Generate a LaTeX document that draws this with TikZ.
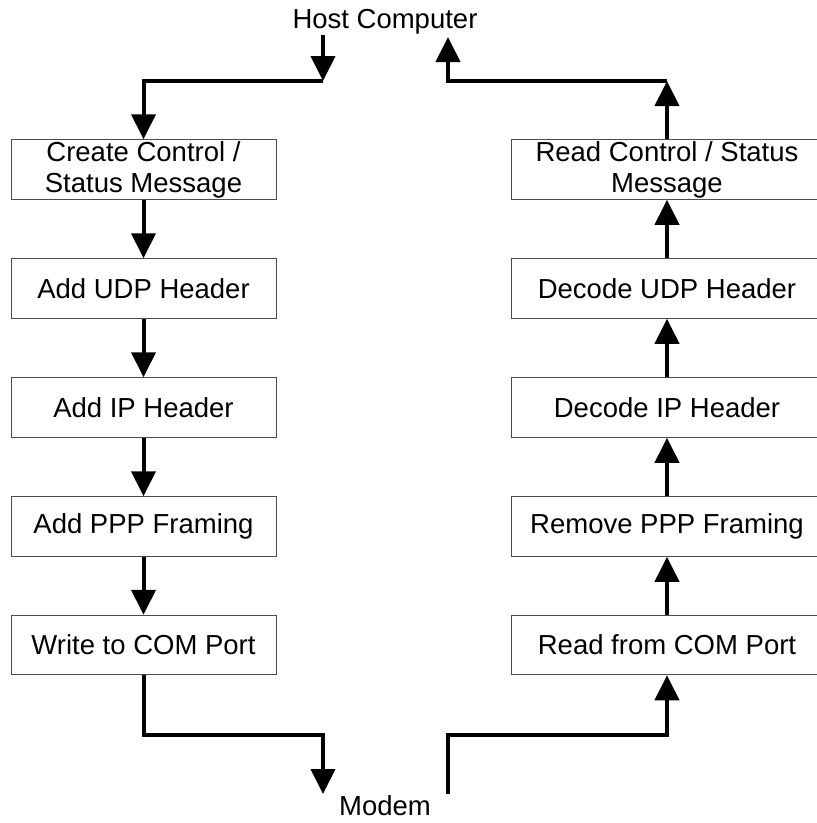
\documentclass[tikz,border=0pt]{standalone}
\usepackage{fontspec}
\setmainfont{Liberation Sans}
\usetikzlibrary{arrows.meta}
\begin{document}
\begin{tikzpicture}[x=1pt,y=-1pt,
  box/.style={draw=black!70, line width=1pt, fill=white, inner sep=0pt, align=center,
    font=\fontsize{27.5}{31}\selectfont},
  lbox/.style={box, minimum width=265pt, minimum height=59.5pt},
  rbox/.style={box, minimum width=312pt, minimum height=59.5pt},
  lbl/.style={inner sep=0pt, anchor=base, font=\fontsize{27.5}{31}\selectfont},
  arr/.style={line width=4pt, line join=miter, -{Triangle[length=25pt,width=24pt]}},
  ln/.style={line width=4pt, line join=miter}]
\useasboundingbox (0,0) rectangle (817,823);
% labels
\node[lbl] (host) at (385,28) {Host Computer};
\node[lbl] (modem) at (385,815) {Modem};
% left boxes
\node[lbox] (L1) at (143.5,169.5) {Create Control /\\Status Message};
\node[lbox] (L2) at (143.5,288.5) {Add UDP Header};
\node[lbox] (L3) at (143.5,407.5) {Add IP Header};
\node[lbox] (L4) at (143.5,526.5) {Add PPP Framing};
\node[lbox] (L5) at (143.5,645) {Write to COM Port};
% right boxes
\node[rbox] (R1) at (667,169.5) {Read Control / Status\\Message};
\node[rbox] (R2) at (667,288.5) {Decode UDP Header};
\node[rbox] (R3) at (667,407.5) {Decode IP Header};
\node[rbox] (R4) at (667,526.5) {Remove PPP Framing};
\node[rbox] (R5) at (667,645) {Read from COM Port};
% coordinates
\coordinate (hin) at (323,35);
\coordinate (hc) at (323,81);
\coordinate (rc) at (667,81);
\coordinate (hout) at (448,37);
\coordinate (ml) at (323,735);
\coordinate (mltip) at (323,794);
\coordinate (mr) at (448,794);
\coordinate (mrc) at (448,735);
% top connectors
\draw[arr] (hin) -- (hc);
\draw[arr] (hc) -| (L1.north);
\draw[arr] (R1.north) -- (rc);
\draw[arr] (rc) -| (hout);
% left chain
\draw[arr] (L1.south) -- (L2.north);
\draw[arr] (L2.south) -- (L3.north);
\draw[arr] (L3.south) -- (L4.north);
\draw[arr] (L4.south) -- (L5.north);
% right chain
\draw[arr] (R5.north) -- (R4.south);
\draw[arr] (R4.north) -- (R3.south);
\draw[arr] (R3.north) -- (R2.south);
\draw[arr] (R2.north) -- (R1.south);
% bottom connectors
\draw[arr] (L5.south) |- (ml) -- (mltip);
\draw[arr] (mr) -- (mrc) -| (R5.south);
\end{tikzpicture}
\end{document}
